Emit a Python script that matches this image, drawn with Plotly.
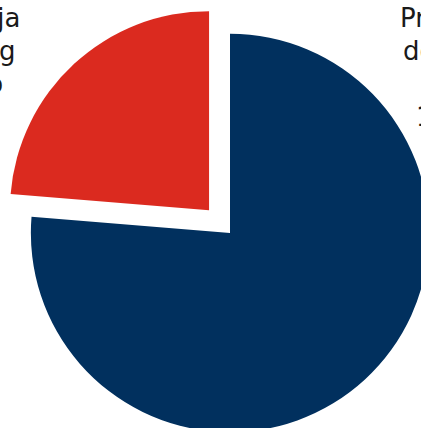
import plotly.graph_objects as go

# Data
categories = ["Prihodi", "Rashodi"]
values = [76.3, 23.7]
slice_colors = ["#01305e", "#db2a1f"]
pulls = [0, 0.155]

left_lines = ["Rashodi poslovanja", "javnog", "ukupno"]
right_lines = ["Prihodi", "domaćeg", "sektora", "176,3"]

W, H = 460, 466

fig = go.Figure(go.Pie(
    labels=categories,
    values=values,
    sort=False,
    direction="clockwise",
    rotation=0,
    pull=pulls,
    marker=dict(colors=slice_colors, line=dict(width=0)),
    textinfo="none",
    hoverinfo="skip",
    showlegend=False,
    domain=dict(x=[0, 1], y=[0, 1]),
))

def px(x):
    return x / W

def py(y):
    return 1 - y / H

font = dict(family="DejaVu Sans", size=26, color="#1a1a1a")
annots = []
left_right_edges = [22, 17, 5]
for i, t in enumerate(left_lines):
    annots.append(dict(text=t, x=px(left_right_edges[i]), y=py(18 + 33 * i), xref="paper", yref="paper",
                       xanchor="right", yanchor="middle", showarrow=False, font=font))
right_left_edges = [398, 401, 440, 414]
for i, t in enumerate(right_lines):
    annots.append(dict(text=t, x=px(right_left_edges[i]), y=py(18 + 33 * i), xref="paper", yref="paper",
                       xanchor="left", yanchor="middle", showarrow=False, font=font))

fig.update_layout(
    width=W, height=H,
    margin=dict(l=0, r=0, t=0, b=0),
    paper_bgcolor="white",
    plot_bgcolor="white",
    annotations=annots,
)

fig.write_html("out.html", config={"displayModeBar": False},
               post_script="document.body.style.margin='0';document.body.style.overflow='hidden';")
